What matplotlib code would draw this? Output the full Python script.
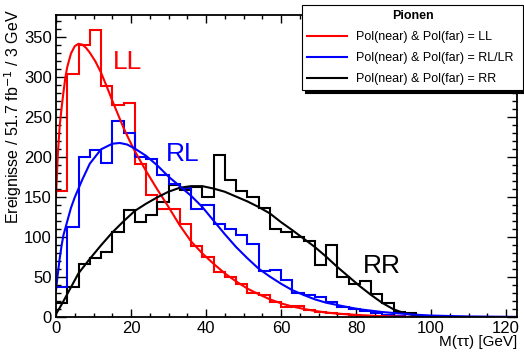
import matplotlib
matplotlib.use("Agg")
import matplotlib.pyplot as plt
from matplotlib.ticker import MultipleLocator
import numpy as np

plt.rcParams['font.family'] = ['Liberation Sans', 'DejaVu Sans']

#~~~Data~~~
bin_width = 3  # GeV
n_bins = 41

# histogram contents per 3 GeV bin
hist_ll = [158, 304, 341, 359, 289, 265, 268, 192, 153, 136, 136, 117, 89, 76,
           57, 51, 42, 31, 28, 19, 13, 14, 9, 7, 5, 4, 3, 2, 1, 1, 1,
           0, 0, 0, 0, 0, 0, 0, 0, 0, 0]
hist_rl = [38, 113, 201, 209, 193, 245, 230, 201, 198, 178, 167, 162, 136, 141,
           117, 110, 103, 92, 58, 59, 47, 30, 28, 25, 19, 13, 10, 8, 5, 3, 2,
           1, 1, 0, 0, 0, 0, 0, 0, 0, 0]
hist_rr = [18, 38, 67, 74, 82, 107, 134, 119, 128, 144, 166, 159, 163, 150,
           203, 172, 158, 150, 137, 111, 107, 101, 95, 66, 90, 51, 42, 45, 29,
           18, 7, 5, 1, 0, 0, 0, 0, 0, 0, 0, 0]

# fit curves
fit_ll_x = [0, 0.5, 1, 1.5, 2, 2.5, 3, 4, 5, 6, 7, 8, 9, 10.5, 12, 13.5, 15,
            16.5, 18, 19.5, 21, 24, 27, 30, 33, 36, 39, 42, 45, 48, 51, 54,
            57, 60, 63, 66, 69, 72, 75, 80, 85, 90, 95, 100, 110, 123]
fit_ll_y = [150, 205, 240, 262, 282, 300, 313, 330, 339, 342, 341, 337, 331,
            320, 306, 289, 271, 254, 237, 222, 208, 183, 160, 138, 115, 95, 80,
            67, 55, 45, 36, 29, 22.5, 17.5, 13.5, 10.5, 8, 6, 4.6, 3, 1.8, 1,
            0.5, 0.3, 0.1, 0]

fit_rl_x = [0, 0.5, 1, 1.5, 2, 3, 4, 5, 6, 7, 9, 12, 15, 17, 19, 21, 24, 27,
            30, 33, 36, 39, 42, 45, 48, 51, 54, 57, 60, 63, 66, 69, 72, 75, 78,
            81, 84, 87, 90, 95, 100, 110, 123]
fit_rl_y = [34, 55, 74, 90, 103, 120, 137, 150, 161, 172, 192, 210, 217, 218,
            216, 211, 202, 190, 176, 164, 152, 138, 121, 104, 88, 74, 61, 51,
            42, 34, 28, 22.5, 18.3, 15.4, 12.5, 10, 8.3, 6.6, 5.4, 3.5, 2.2, 1,
            0.4]

fit_rr_x = [0, 1.5, 3, 6, 9, 12, 15, 18, 21, 24, 27, 30, 33, 36, 39, 42, 45,
            48, 51, 54, 57, 60, 63, 66, 69, 72, 75, 78, 81, 84, 87, 90, 93, 96,
            99, 100]
fit_rr_y = [4, 16, 29, 55, 73, 90, 106, 120, 133, 142, 150, 157, 162, 164, 164,
            161, 157, 151, 145, 138, 130, 119, 109, 98.5, 88, 76, 63, 51, 39,
            28, 18, 10, 5, 2, 0.5, 0]

labels = ['Pol(near) & Pol(far) = LL',
          'Pol(near) & Pol(far) = RL/LR',
          'Pol(near) & Pol(far) = RR']

edges = np.arange(n_bins + 1) * bin_width

#~~~Plot~~~
W, H = 524, 352
fig = plt.figure(figsize=(W / 100, H / 100), dpi=100)
x0, x1, y0, y1 = 56, 517.25, 317.3, 15
ax = fig.add_axes([x0 / W, 1 - y0 / H, (x1 - x0) / W, (y0 - y1) / H])

lw = 1.5
ax.stairs(hist_ll, edges, baseline=None, color='red', lw=lw)
l_ll, = ax.plot(fit_ll_x, fit_ll_y, color='red', lw=lw)
ax.stairs(hist_rr, edges, baseline=None, color='black', lw=lw)
l_rr, = ax.plot(fit_rr_x, fit_rr_y, color='black', lw=lw)
ax.stairs(hist_rl, edges, baseline=None, color='blue', lw=lw)
l_rl, = ax.plot(fit_rl_x, fit_rl_y, color='blue', lw=lw)

ax.text(15.2, 311, 'LL', color='red', fontsize=19)
ax.text(29.3, 196, 'RL', color='blue', fontsize=19)
ax.text(81.9, 55, 'RR', color='black', fontsize=19)

ax.set_xlim(0, 123)
ax.set_ylim(0, 378)
ax.xaxis.set_major_locator(MultipleLocator(20))
ax.xaxis.set_minor_locator(MultipleLocator(5))
ax.yaxis.set_major_locator(MultipleLocator(50))
ax.yaxis.set_minor_locator(MultipleLocator(10))
ax.tick_params(which='both', direction='in', top=True, right=True,
               labelsize=12, width=1)
ax.tick_params(axis='x', which='major', length=6, pad=3)
ax.tick_params(axis='x', which='minor', length=3)
ax.tick_params(axis='y', which='major', length=7, pad=3)
ax.tick_params(axis='y', which='minor', length=3.5)
for s in ax.spines.values():
    s.set_linewidth(1.3)

ax.set_xlabel('M(ττ) [GeV]', fontsize=11, loc='right')
ax.xaxis.set_label_coords(1.0, -0.06)
ax.set_ylabel(r'Ereignisse / 51.7 fb$^{-1}$ / 3 GeV', fontsize=11.5,
              loc='top')
ax.yaxis.set_label_coords(-0.07, 1.02)

leg = ax.legend([l_ll, l_rl, l_rr], labels, title='Pionen',
                title_fontproperties={'weight': 'bold', 'size': 9},
                fontsize=9, loc='upper left', mode='expand',
                bbox_to_anchor=(302 / W, 1 - 88 / H, 221 / W, 83 / H),
                bbox_transform=fig.transFigure, borderaxespad=0,
                fancybox=False, edgecolor='black', framealpha=1,
                shadow={'color': 'black', 'alpha': 1},
                handlelength=3.2, handletextpad=0.7, borderpad=0.4,
                labelspacing=0.72)
leg.get_frame().set_linewidth(0.8)

fig.savefig('out.png', dpi=100)
